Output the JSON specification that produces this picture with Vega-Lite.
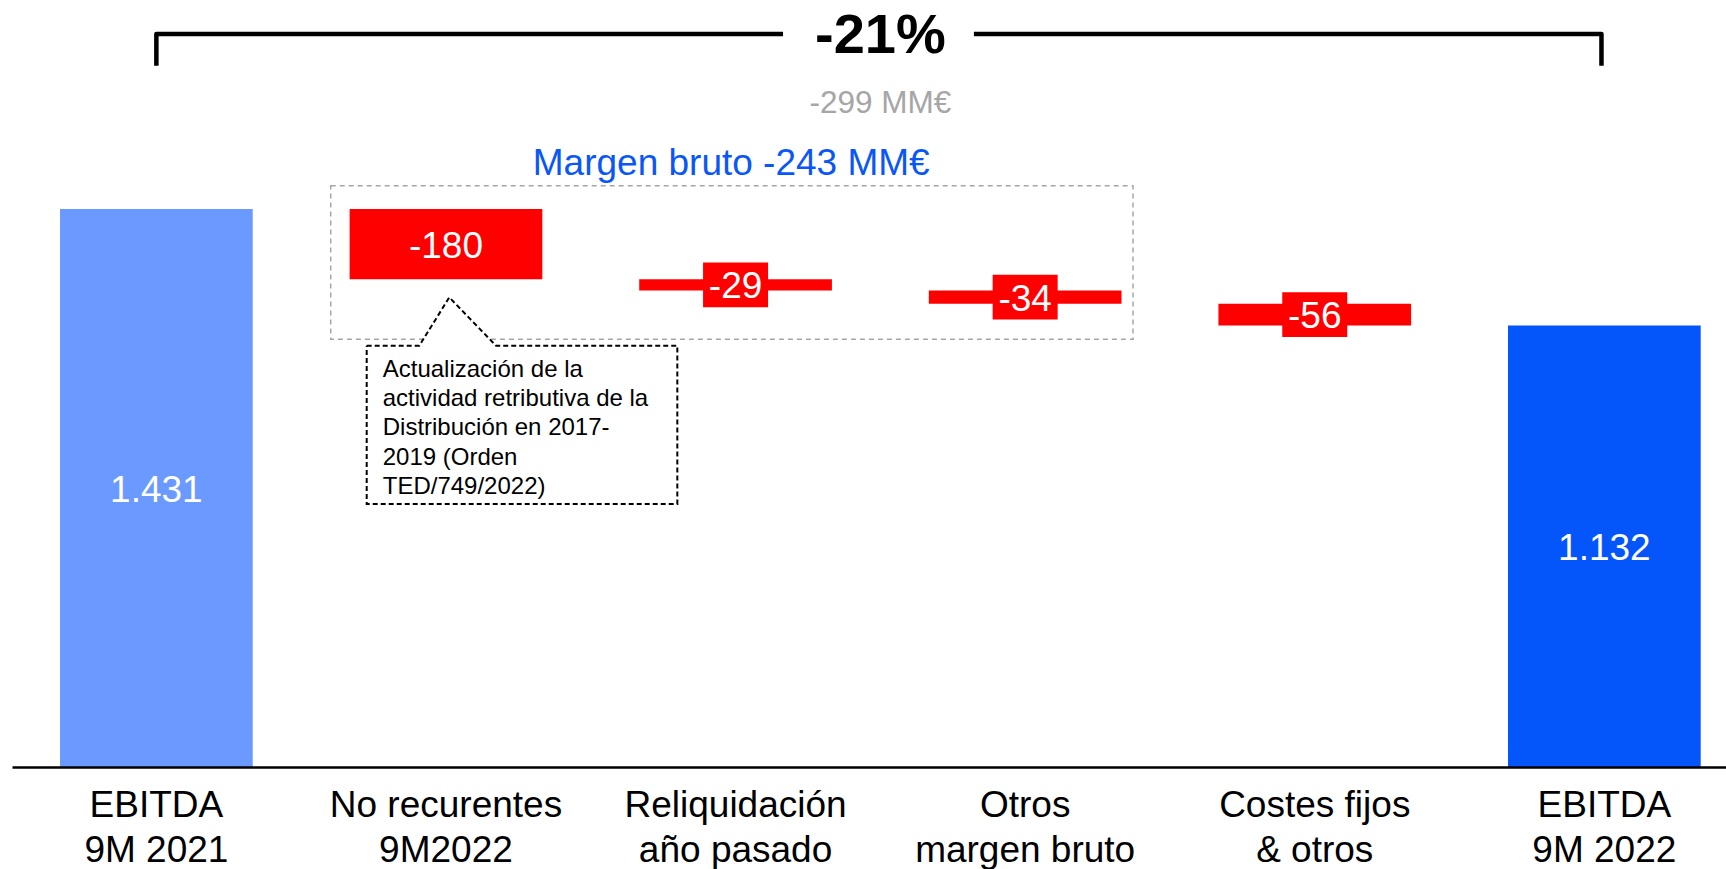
{
  "$schema": "https://vega.github.io/schema/vega-lite/v6.json",
  "width": 1714,
  "height": 767,
  "autosize": {"type": "none"},
  "padding": {"left": 12, "top": 0, "right": 0, "bottom": 102},
  "background": "white",
  "config": {"view": {"stroke": null}, "font": "Liberation Sans", "text": {"font": "Liberation Sans"}},
  "datasets": {
    "bars": [
      {"cat": "EBITDA|9M 2021", "kind": "total21", "start": 0, "end": 1431, "label": "1.431"},
      {"cat": "No recurentes|9M2022", "kind": "down", "start": 1431, "end": 1251, "label": "-180"},
      {"cat": "Reliquidación|año pasado", "kind": "down", "start": 1251, "end": 1222, "label": "-29"},
      {"cat": "Otros|margen bruto", "kind": "down", "start": 1222, "end": 1188, "label": "-34"},
      {"cat": "Costes fijos|& otros", "kind": "down", "start": 1188, "end": 1132, "label": "-56"},
      {"cat": "EBITDA|9M 2022", "kind": "total22", "start": 0, "end": 1132, "label": "1.132"}
    ],
    "brace": [
      {"seg": "L", "o": 1, "u": 0, "v": 1798.5},
      {"seg": "L", "o": 2, "u": 0, "v": 1879.8},
      {"seg": "L", "o": 3, "u": 2.164, "v": 1879.8},
      {"seg": "R", "o": 1, "u": 2.823, "v": 1879.8},
      {"seg": "R", "o": 2, "u": 4.99, "v": 1879.8},
      {"seg": "R", "o": 3, "u": 4.99, "v": 1798.5}
    ],
    "box": [{"u1": 0.602, "u2": 3.3724, "v1": 1096.8, "v2": 1490.7}],
    "mask": [{"u1": 0.9219, "u2": 1.1516, "v": 1096.8}],
    "callout": [
      {"o": 1, "u": 0.7263, "v": 1080.4},
      {"o": 2, "u": 0.908, "v": 1080.4},
      {"o": 3, "u": 1.0116, "v": 1204.5},
      {"o": 4, "u": 1.1728, "v": 1080.4},
      {"o": 5, "u": 1.7989, "v": 1080.4},
      {"o": 6, "u": 1.7989, "v": 674.5},
      {"o": 7, "u": 0.7263, "v": 674.5},
      {"o": 8, "u": 0.7263, "v": 1080.4}
    ],
    "pct": [{"u": 2.5, "v": 1831.1, "text": "-21%"}],
    "abs": [{"u": 2.5, "v": 1677.9, "text": "-299 MM€"}],
    "margin": [{"u": 1.985, "v": 1518.2, "text": "Margen bruto -243 MM€"}],
    "note": [{"u": 0.7816, "v": 1000.9, "text": "Actualización de la\nactividad retributiva de la\nDistribución en 2017-\n2019 (Orden\nTED/749/2022)"}]
  },
  "layer": [
    {
      "data": {"name": "bars"},
      "layer": [
        {
          "mark": {"type": "bar"},
          "encoding": {
            "x": {
              "field": "cat", "type": "nominal", "sort": null,
              "scale": {"paddingInner": 0.3346, "paddingOuter": 0.1266, "align": 0.655},
              "axis": {
                "title": null, "orient": "bottom", "domainColor": "black", "domainWidth": 2.5,
                "ticks": false, "tickSize": 0, "grid": false,
                "labelFont": "Liberation Sans", "labelFontSize": 37, "labelColor": "black",
                "labelPadding": 20, "labelLineHeight": 45, "labelBaseline": "top",
                "labelExpr": "split(datum.value, '|')", "labelAngle": 0, "labelLimit": 0,
                "labelOverlap": false, "zindex": 1
              }
            },
            "y": {"field": "start", "type": "quantitative", "scale": {"domain": [0, 1967], "nice": false, "zero": true}, "axis": null},
            "y2": {"field": "end"},
            "color": {
              "field": "kind", "type": "nominal",
              "scale": {"domain": ["total21", "down", "total22"], "range": ["#6A99FF", "#FF0000", "#0556FA"]},
              "legend": null
            }
          }
        },
        {
          "transform": [
            {"filter": "datum.kind === 'down'"},
            {"fold": ["start", "end"], "as": ["k", "v"]}
          ],
          "mark": {"type": "point", "shape": "M-1,-0.69L1,-0.69L1,0.69L-1,0.69Z", "filled": true, "color": "#FF0000", "opacity": 1, "size": 4225, "strokeWidth": 0},
          "encoding": {
            "x": {"field": "cat", "type": "nominal", "sort": null},
            "y": {"aggregate": "mean", "field": "v", "type": "quantitative", "axis": null}
          }
        },
        {
          "transform": [{"fold": ["start", "end"], "as": ["k", "v"]}],
          "mark": {"type": "text", "color": "white", "fontSize": 37, "font": "Liberation Sans", "align": "center", "baseline": "middle", "dy": 2.5},
          "encoding": {
            "x": {"field": "cat", "type": "nominal", "sort": null},
            "y": {"aggregate": "mean", "field": "v", "type": "quantitative", "axis": null},
            "text": {"field": "label", "type": "nominal"}
          }
        }
      ]
    },
    {
      "layer": [
        {
          "data": {"name": "box"},
          "mark": {"type": "rect", "fillOpacity": 0, "stroke": "#A6A6A6", "strokeWidth": 1.5, "strokeDash": [5, 4]},
          "encoding": {
            "x": {"field": "u1", "type": "quantitative", "scale": {"domain": [-0.4985, 5.42], "nice": false, "zero": false}, "axis": null},
            "x2": {"field": "u2"},
            "y": {"field": "v1", "type": "quantitative", "axis": null},
            "y2": {"field": "v2"}
          }
        },
        {
          "data": {"name": "mask"},
          "mark": {"type": "rule", "color": "white", "strokeWidth": 3},
          "encoding": {
            "x": {"field": "u1", "type": "quantitative", "axis": null},
            "x2": {"field": "u2"},
            "y": {"field": "v", "type": "quantitative", "axis": null}
          }
        },
        {
          "data": {"name": "callout"},
          "mark": {"type": "line", "color": "black", "strokeWidth": 2, "strokeDash": [5, 3], "interpolate": "linear"},
          "encoding": {
            "x": {"field": "u", "type": "quantitative", "axis": null},
            "y": {"field": "v", "type": "quantitative", "axis": null},
            "order": {"field": "o", "type": "quantitative"}
          }
        },
        {
          "data": {"name": "brace"},
          "mark": {"type": "line", "color": "black", "strokeWidth": 4.5, "strokeJoin": "round", "interpolate": "linear"},
          "encoding": {
            "x": {"field": "u", "type": "quantitative", "axis": null},
            "y": {"field": "v", "type": "quantitative", "axis": null},
            "detail": {"field": "seg", "type": "nominal"},
            "order": {"field": "o", "type": "quantitative"}
          }
        },
        {
          "data": {"name": "pct"},
          "mark": {"type": "text", "fontSize": 56, "fontWeight": "bold", "color": "black", "font": "Liberation Sans", "align": "center", "baseline": "alphabetic"},
          "encoding": {
            "x": {"field": "u", "type": "quantitative", "axis": null},
            "y": {"field": "v", "type": "quantitative", "axis": null},
            "text": {"field": "text", "type": "nominal"}
          }
        },
        {
          "data": {"name": "abs"},
          "mark": {"type": "text", "fontSize": 31.5, "color": "#A6A6A6", "font": "Liberation Sans", "align": "center", "baseline": "alphabetic"},
          "encoding": {
            "x": {"field": "u", "type": "quantitative", "axis": null},
            "y": {"field": "v", "type": "quantitative", "axis": null},
            "text": {"field": "text", "type": "nominal"}
          }
        },
        {
          "data": {"name": "margin"},
          "mark": {"type": "text", "fontSize": 37, "color": "#0A57F5", "font": "Liberation Sans", "align": "center", "baseline": "alphabetic"},
          "encoding": {
            "x": {"field": "u", "type": "quantitative", "axis": null},
            "y": {"field": "v", "type": "quantitative", "axis": null},
            "text": {"field": "text", "type": "nominal"}
          }
        },
        {
          "data": {"name": "note"},
          "mark": {"type": "text", "fontSize": 24, "color": "black", "font": "Liberation Sans", "align": "left", "baseline": "alphabetic", "lineBreak": "\n", "lineHeight": 29.3},
          "encoding": {
            "x": {"field": "u", "type": "quantitative", "axis": null},
            "y": {"field": "v", "type": "quantitative", "axis": null},
            "text": {"field": "text", "type": "nominal"}
          }
        }
      ]
    }
  ],
  "resolve": {"scale": {"x": "independent"}}
}
